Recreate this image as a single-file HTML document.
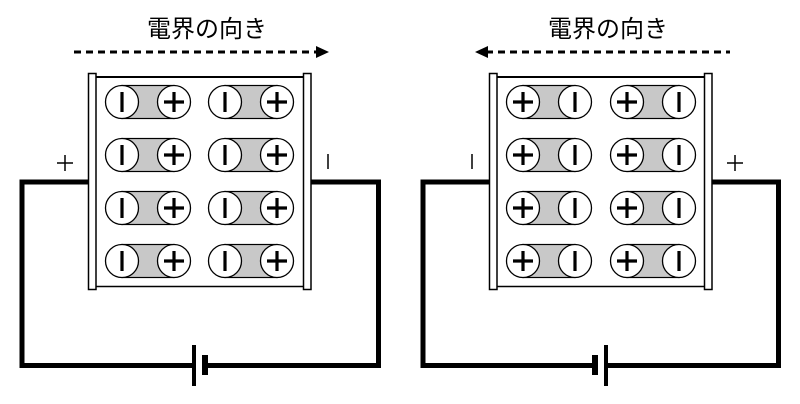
<!DOCTYPE html>
<html><head><meta charset="utf-8"><style>html,body{margin:0;padding:0;background:#fff}svg{display:block}</style></head>
<body>
<svg width="800" height="404" viewBox="0 0 800 404" xmlns="http://www.w3.org/2000/svg">
<defs>
<g id="mol">
<rect x="0" y="-16.5" width="52" height="33" fill="#c8c8c8" stroke="#000" stroke-width="1.2"/>
<circle cx="0" cy="0" r="16.5" fill="#fff" stroke="#000" stroke-width="1.3"/>
<circle cx="52" cy="0" r="16.5" fill="#fff" stroke="#000" stroke-width="1.3"/>
</g>
<g id="minus"><line x1="0" y1="-10" x2="0" y2="10" stroke="#000" stroke-width="3.2"/></g>
<g id="plus"><line x1="-10" y1="0" x2="10" y2="0" stroke="#000" stroke-width="3.2"/><line x1="0" y1="-10" x2="0" y2="10" stroke="#000" stroke-width="3.2"/></g>
<g id="lplus"><line x1="-8" y1="0" x2="8" y2="0" stroke="#000" stroke-width="1.5"/><line x1="0" y1="-8" x2="0" y2="8" stroke="#000" stroke-width="1.5"/></g>
</defs>
<g font-family="'Liberation Sans','Noto Sans CJK JP',sans-serif">
<!-- LEFT -->
<text x="207" y="37" font-size="24" text-anchor="middle" font-family="'Noto Sans CJK JP',sans-serif">電界の向き</text>
<line x1="74" y1="52" x2="318" y2="52" stroke="#000" stroke-width="3" stroke-dasharray="7,5"/>
<polygon points="316,46 329,52 316,58" fill="#000"/>
<polyline points="88,182 22,182 22,365.5 193,365.5" fill="none" stroke="#000" stroke-width="5"/>
<polyline points="206,365.5 378.5,365.5 378.5,182 311,182" fill="none" stroke="#000" stroke-width="5"/>
<rect x="192" y="345" width="4" height="41" fill="#000"/>
<rect x="202" y="355" width="6" height="20" fill="#000"/>
<line x1="96" y1="77" x2="303" y2="77" stroke="#000" stroke-width="2"/>
<line x1="96" y1="286.5" x2="303" y2="286.5" stroke="#000" stroke-width="1.5"/>
<rect x="88.5" y="73.5" width="7.5" height="216" fill="#fff" stroke="#000" stroke-width="1.5"/>
<rect x="303.5" y="73.5" width="7.5" height="216" fill="#fff" stroke="#000" stroke-width="1.5"/>
<use href="#lplus" x="65" y="163"/>
<line x1="328" y1="154" x2="328" y2="169" stroke="#000" stroke-width="1.5"/>
<g>
<use href="#mol" x="122" y="102"/><use href="#minus" x="122" y="102"/><use href="#plus" x="174" y="102"/>
<use href="#mol" x="225" y="102"/><use href="#minus" x="225" y="102"/><use href="#plus" x="277" y="102"/>
<use href="#mol" x="122" y="155"/><use href="#minus" x="122" y="155"/><use href="#plus" x="174" y="155"/>
<use href="#mol" x="225" y="155"/><use href="#minus" x="225" y="155"/><use href="#plus" x="277" y="155"/>
<use href="#mol" x="122" y="208"/><use href="#minus" x="122" y="208"/><use href="#plus" x="174" y="208"/>
<use href="#mol" x="225" y="208"/><use href="#minus" x="225" y="208"/><use href="#plus" x="277" y="208"/>
<use href="#mol" x="122" y="261"/><use href="#minus" x="122" y="261"/><use href="#plus" x="174" y="261"/>
<use href="#mol" x="225" y="261"/><use href="#minus" x="225" y="261"/><use href="#plus" x="277" y="261"/>
</g>
<!-- RIGHT -->
<text x="608" y="37" font-size="24" text-anchor="middle" font-family="'Noto Sans CJK JP',sans-serif">電界の向き</text>
<line x1="486" y1="52" x2="730" y2="52" stroke="#000" stroke-width="3" stroke-dasharray="7,5"/>
<polygon points="488,46 475,52 488,58" fill="#000"/>
<polyline points="489,182 423,182 423,365.5 594,365.5" fill="none" stroke="#000" stroke-width="5"/>
<polyline points="607,365.5 778.5,365.5 778.5,182 712,182" fill="none" stroke="#000" stroke-width="5"/>
<rect x="592" y="355" width="6" height="20" fill="#000"/>
<rect x="604" y="345" width="4" height="41" fill="#000"/>
<line x1="497" y1="77" x2="704" y2="77" stroke="#000" stroke-width="2"/>
<line x1="497" y1="286.5" x2="704" y2="286.5" stroke="#000" stroke-width="1.5"/>
<rect x="489.5" y="73.5" width="7.5" height="216" fill="#fff" stroke="#000" stroke-width="1.5"/>
<rect x="704.5" y="73.5" width="7.5" height="216" fill="#fff" stroke="#000" stroke-width="1.5"/>
<line x1="472" y1="154" x2="472" y2="169" stroke="#000" stroke-width="1.5"/>
<use href="#lplus" x="735" y="163"/>
<g>
<use href="#mol" x="523" y="102"/><use href="#plus" x="523" y="102"/><use href="#minus" x="575" y="102"/>
<use href="#mol" x="627" y="102"/><use href="#plus" x="627" y="102"/><use href="#minus" x="679" y="102"/>
<use href="#mol" x="523" y="155"/><use href="#plus" x="523" y="155"/><use href="#minus" x="575" y="155"/>
<use href="#mol" x="627" y="155"/><use href="#plus" x="627" y="155"/><use href="#minus" x="679" y="155"/>
<use href="#mol" x="523" y="208"/><use href="#plus" x="523" y="208"/><use href="#minus" x="575" y="208"/>
<use href="#mol" x="627" y="208"/><use href="#plus" x="627" y="208"/><use href="#minus" x="679" y="208"/>
<use href="#mol" x="523" y="261"/><use href="#plus" x="523" y="261"/><use href="#minus" x="575" y="261"/>
<use href="#mol" x="627" y="261"/><use href="#plus" x="627" y="261"/><use href="#minus" x="679" y="261"/>
</g>
</g>
</svg>
</body></html>
